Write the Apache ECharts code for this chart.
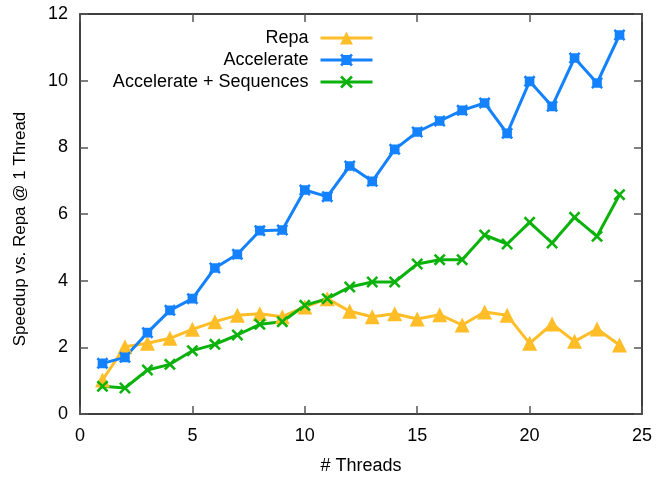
<!DOCTYPE html>
<html>
<head>
<meta charset="UTF-8">
<title>Speedup</title>
<script src="https://cdn.jsdelivr.net/npm/echarts@6/dist/echarts.min.js"></script>
</head>
<body style="margin:0;">
<div id="chart" style="width:664px;height:480px;"></div>
<script type="text/javascript">
    // threads on the x axis
    var threads = [1,2,3,4,5,6,7,8,9,10,11,12,13,14,15,16,17,18,19,20,21,22,23,24];
    var repa = [1.02,2.02,2.12,2.27,2.54,2.77,2.96,3.01,2.92,3.21,3.46,3.08,2.92,3.01,2.85,2.98,2.67,3.06,2.96,2.12,2.7,2.18,2.55,2.07];
    var accelerate = [1.52,1.7,2.44,3.11,3.46,4.38,4.79,5.5,5.52,6.72,6.52,7.44,6.98,7.94,8.46,8.79,9.11,9.33,8.42,9.98,9.23,10.68,9.93,11.37];
    var accSeq = [0.83,0.78,1.32,1.49,1.9,2.09,2.37,2.69,2.77,3.26,3.46,3.81,3.96,3.96,4.5,4.63,4.63,5.37,5.1,5.75,5.13,5.9,5.33,6.58];

    var font = 'Liberation Sans';
    var fsize = 18;
    var crossPath = 'path://M0,1.5L1.5,0L5,3.5L8.5,0L10,1.5L6.5,5L10,8.5L8.5,10L5,6.5L1.5,10L0,8.5L3.5,5Z';
    var boxPath = 'path://M0,1.5L1.5,0L2.5,1L7.5,1L8.5,0L10,1.5L9,2.5L9,7.5L10,8.5L8.5,10L7.5,9L2.5,9L1.5,10L0,8.5L1,7.5L1,2.5Z';

    function pairs(ys) {
        var out = [];
        for (var i = 0; i < threads.length; i++) {
            out.push([threads[i], ys[i]]);
        }
        return out;
    }

    function legendAt(name, top) {
        return {
            data: [name],
            right: 285,
            top: top,
            align: 'right',
            itemWidth: 52,
            itemHeight: 16,
            selectedMode: false,
            lineStyle: {width: 3},
            textStyle: {fontFamily: font, fontSize: fsize, color: '#000', padding: [0, 7, 0, 0]}
        };
    }

    var axisCommon = {
        axisLine: {show: true, onZero: false, lineStyle: {color: '#000', width: 1.5}},
        axisTick: {show: true, inside: true, length: 8, lineStyle: {color: '#555', width: 1.5}},
        splitLine: {show: false}
    };

    var chart = echarts.init(document.getElementById('chart'));
    var option = {
        animation: false,
        backgroundColor: '#fff',
        grid: {left: 80, right: 22, top: 14, bottom: 64},
        legend: [legendAt('Repa', 24), legendAt('Accelerate', 46), legendAt('Accelerate + Sequences', 68)],
        xAxis: [
            Object.assign({
                type: 'value', min: 0, max: 25, interval: 5,
                name: '# Threads', nameLocation: 'middle', nameGap: 43,
                nameTextStyle: {fontFamily: font, fontSize: fsize, color: '#000'},
                axisLabel: {fontFamily: font, fontSize: fsize, color: '#000', margin: 13}
            }, axisCommon),
            Object.assign({
                type: 'value', min: 0, max: 25, interval: 5, position: 'top',
                axisLabel: {show: false}
            }, axisCommon)
        ],
        yAxis: [
            Object.assign({
                type: 'value', min: 0, max: 12, interval: 2,
                name: 'Speedup vs. Repa @ 1 Thread', nameLocation: 'middle', nameGap: 51,
                nameTextStyle: {fontFamily: font, fontSize: 17, color: '#000', padding: [0, 30, 0, 0]},
                axisLabel: {fontFamily: font, fontSize: fsize, color: '#000', margin: 12}
            }, axisCommon),
            Object.assign({
                type: 'value', min: 0, max: 12, interval: 2, position: 'right',
                axisLabel: {show: false}
            }, axisCommon)
        ],
        series: [
            {
                name: 'Repa', type: 'line', data: pairs(repa),
                symbol: 'triangle', symbolSize: 15,
                itemStyle: {color: '#ffbe28'},
                lineStyle: {color: '#ffbe28', width: 3}
            },
            {
                name: 'Accelerate', type: 'line', data: pairs(accelerate),
                symbol: boxPath, symbolSize: 12,
                itemStyle: {color: '#1482ff'},
                lineStyle: {color: '#1482ff', width: 3}
            },
            {
                name: 'Accelerate + Sequences', type: 'line', data: pairs(accSeq),
                symbol: crossPath, symbolSize: 12,
                itemStyle: {color: '#0cb20c'},
                lineStyle: {color: '#0cb20c', width: 3}
            }
        ]
    };
    chart.setOption(option);
</script>
</body>
</html>
